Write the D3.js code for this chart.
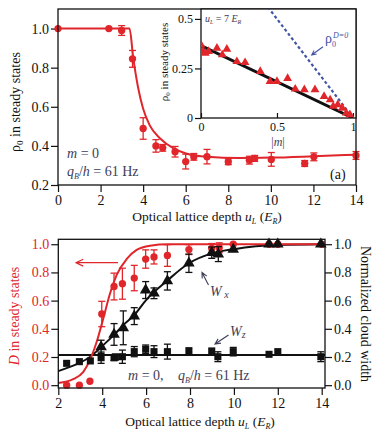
<!DOCTYPE html>
<html>
<head>
<meta charset="utf-8">
<script src="https://cdn.jsdelivr.net/npm/d3@7"></script>
<style>
body { margin: 0; background: #fff; }
svg text { font-family: "Liberation Serif", "Times New Roman", serif; }
</style>
</head>
<body>
<div class="chart"></div>
<script>
// panel (a): rho_0 vs lattice depth
var depthA = [0, 2.39, 2.99, 3.5, 4.0, 4.6, 4.92, 5.5, 6.0, 6.38, 7.0, 8.0, 8.99, 9.24, 10.02, 11.59, 12.02, 14.0];
var rhoA = [1.0, 1.0, 0.99, 0.845, 0.489, 0.40, 0.39, 0.37, 0.32, 0.344, 0.345, 0.319, 0.327, 0.336, 0.331, 0.31, 0.344, 0.351];
var rhoErrA = [0.01, 0.01, 0.025, 0.043, 0.055, 0.032, 0.017, 0.027, 0.038, 0.017, 0.037, 0.015, 0.02, 0.015, 0.035, 0.015, 0.02, 0.02];
var fitDepthA = [0, 3.36, 3.53, 3.76, 4.0, 4.31, 4.8, 5.43, 6.05, 7.0, 8.5, 10, 12, 14];
var fitRhoA = [1.0, 1.0, 0.854, 0.70, 0.59, 0.505, 0.438, 0.387, 0.36, 0.344, 0.338, 0.34, 0.347, 0.355];
var ticksA = [0, 2, 4, 6, 8, 10, 12, 14];
var yTicksA = [0.2, 0.4, 0.6, 0.8, 1.0];

// inset: rho_0 vs |m| at u_L = 7 E_R
var insetM = [0, 0.013, 0.028, 0.05, 0.105, 0.14, 0.17, 0.236, 0.29, 0.39, 0.454, 0.50, 0.57, 0.62, 0.68, 0.75, 0.81, 0.85, 0.87, 0.90, 0.93, 0.956, 0.98];
var insetRho = [0.369, 0.336, 0.327, 0.336, 0.352, 0.319, 0.347, 0.285, 0.28, 0.235, 0.185, 0.185, 0.20, 0.146, 0.143, 0.143, 0.109, 0.092, 0.059, 0.067, 0.05, 0.025, 0.017];
var insetLineM = [0, 1];
var insetLineRho = [0.365, 0];
var noDisorderM = [0, 1];
var noDisorderRho = [1, 0];
var insetXTicks = [0, 0.5, 1];
var insetXLabels = ['0', '0.5', '1'];
var insetYTicks = [0, 0.25, 0.5];
var insetYLabels = ['0', '0.25', '0.5'];

// panel (b): D and cloud widths vs lattice depth
var depthD = [2.38, 2.96, 3.44, 3.98, 4.54, 4.92, 5.46, 5.98, 6.36, 6.97, 7.95, 8.99, 9.33, 9.97, 11.6, 12.0, 14.0];
var valD = [0.0, 0.0, 0.028, 0.505, 0.70, 0.72, 0.76, 0.895, 0.91, 0.92, 0.962, 0.97, 0.975, 1.0, 1.0, 1.0, 1.0];
var errD = [0.01, 0.01, 0.012, 0.09, 0.095, 0.11, 0.09, 0.065, 0.05, 0.077, 0.035, 0.035, 0.035, 0.01, 0.01, 0.01, 0.01];
var fitDepthD = [2, 2.68, 3.14, 3.44, 3.75, 4.05, 4.36, 4.66, 5.12, 5.57, 6.18, 7, 8, 10, 14];
var fitD = [0.016, 0.043, 0.095, 0.178, 0.308, 0.474, 0.652, 0.782, 0.896, 0.96, 0.99, 1.0, 1.0, 1.0, 1.0];

var depthWx = [3.95, 4.54, 4.96, 5.46, 5.98, 6.36, 6.97, 7.95, 8.99, 9.29, 9.97, 11.6, 12.0, 13.96];
var valWx = [0.272, 0.36, 0.407, 0.49, 0.675, 0.652, 0.74, 0.865, 0.94, 0.93, 0.963, 1.0, 1.0, 1.0];
var errWx = [0.047, 0.077, 0.12, 0.06, 0.06, 0.038, 0.065, 0.065, 0.04, 0.053, 0.01, 0.01, 0.01, 0.01];
var fitDepthWx = [2, 2.91, 3.44, 4, 4.57, 4.96, 5.46, 6.0, 6.95, 7.95, 9, 10, 11, 12, 14];
var fitWx = [0.1, 0.154, 0.2, 0.277, 0.362, 0.426, 0.497, 0.604, 0.74, 0.865, 0.935, 0.965, 0.985, 0.995, 1.0];

var depthWz = [2.38, 2.96, 3.46, 3.95, 4.54, 4.6, 4.92, 5.46, 5.98, 6.36, 6.97, 7.95, 8.99, 9.27, 9.97, 11.6, 12.0, 13.96];
var valWz = [0.155, 0.167, 0.172, 0.195, 0.195, 0.2, 0.202, 0.238, 0.255, 0.238, 0.238, 0.245, 0.243, 0.202, 0.238, 0.219, 0.238, 0.202];
var errWz = [0.01, 0.01, 0.01, 0.04, 0.02, 0.02, 0.047, 0.036, 0.03, 0.042, 0.053, 0.01, 0.01, 0.035, 0.03, 0.01, 0.01, 0.035];
var fitDepthWz = [2, 14.15];
var fitWz = [0.215, 0.215];
var ticksB = [2, 4, 6, 8, 10, 12, 14];
var yTicksB = [0.0, 0.2, 0.4, 0.6, 0.8, 1.0];

var red = '#e0262b';
var ink = '#111';
var slate = '#3d3d58';
var blue = '#4254a6';
var serif = '"Liberation Serif", "Times New Roman", serif';

var svg = d3.select('.chart')
  .append('svg')
  .attr('width', 385)
  .attr('height', 440);

function zip(xs, ys, es) {
  return xs.map(function(x, i) { return {x: x, y: ys[i], e: es ? es[i] : 0}; });
}

function styleAxis(g, color, size) {
  g.attr('font-family', serif);
  g.select('.domain').remove();
  g.selectAll('.tick line').attr('stroke', ink).attr('stroke-width', 1.2);
  g.selectAll('.tick text')
    .attr('fill', color)
    .attr('font-size', size)
    .attr('font-family', serif);
}

function errorBars(g, data, x, y, color, cap) {
  var bars = g.append('g').selectAll('g')
    .data(data.filter(function(d) { return d.e > 0.012; }))
    .enter()
    .append('g')
    .attr('stroke', color)
    .attr('stroke-width', 1.3);
  bars.append('line')
    .attr('x1', function(d) { return x(d.x); })
    .attr('x2', function(d) { return x(d.x); })
    .attr('y1', function(d) { return y(d.y - d.e); })
    .attr('y2', function(d) { return y(d.y + d.e); });
  [-1, 1].forEach(function(s) {
    bars.append('line')
      .attr('x1', function(d) { return x(d.x) - cap; })
      .attr('x2', function(d) { return x(d.x) + cap; })
      .attr('y1', function(d) { return y(d.y + s * d.e); })
      .attr('y2', function(d) { return y(d.y + s * d.e); });
  });
}

function symbols(g, data, x, y, type, size, color) {
  g.append('g').selectAll('path')
    .data(data)
    .enter()
    .append('path')
    .attr('d', d3.symbol().type(type).size(size))
    .attr('transform', function(d) { return 'translate(' + x(d.x) + ',' + y(d.y) + ')'; })
    .attr('fill', color);
}

function arrowHead(g, x1, y1, x2, y2, len, color, width) {
  var a = Math.atan2(y2 - y1, x2 - x1);
  var p = [a + 2.7, a - 2.7].map(function(t) {
    return [x2 + len * Math.cos(t), y2 + len * Math.sin(t)];
  });
  g.append('path')
    .attr('d', 'M' + p[0] + 'L' + x2 + ',' + y2 + 'L' + p[1] + 'M' + x1 + ',' + y1 + 'L' + x2 + ',' + y2)
    .attr('fill', 'none')
    .attr('stroke', color)
    .attr('stroke-width', width);
}

var depthLabel = 'Optical lattice depth <tspan font-style="italic">u</tspan><tspan font-size="8" dy="3" font-style="italic">L</tspan><tspan dy="-3"> (</tspan><tspan font-style="italic">E</tspan><tspan font-size="8" dy="3" font-style="italic">R</tspan><tspan dy="-3">)</tspan>';
var qbLabel = '<tspan font-style="italic">q</tspan><tspan font-size="8" dy="3" font-style="italic">B</tspan><tspan dy="-3">/</tspan><tspan font-style="italic">h</tspan> = 61 Hz';

// ---------- panel (a) ----------
var xA = d3.scaleLinear().domain([0, 14]).range([58, 356]);
var yA = d3.scaleLinear().domain([0.2, 1.1]).range([185, 9]);

var gA = svg.append('g');

gA.append('g')
  .attr('transform', 'translate(0,185)')
  .call(d3.axisBottom(xA).tickValues(ticksA).tickSize(7).tickPadding(3).tickSizeOuter(0))
  .call(styleAxis, ink, 14);

gA.append('g')
  .attr('transform', 'translate(58,0)')
  .call(d3.axisLeft(yA).tickValues(yTicksA).tickSize(7).tickPadding(2).tickFormat(d3.format('.1f')))
  .call(styleAxis, ink, 14);

var fitLineA = d3.line()
  .x(function(d) { return xA(d.x); })
  .y(function(d) { return yA(d.y); })
  .curve(d3.curveMonotoneX);

gA.append('path')
  .attr('d', fitLineA(zip(fitDepthA, fitRhoA)))
  .attr('fill', 'none')
  .attr('stroke', red)
  .attr('stroke-width', 2);

var dataA = zip(depthA, rhoA, rhoErrA);
errorBars(gA, dataA, xA, yA, red, 3.5);
symbols(gA, dataA, xA, yA, d3.symbolCircle, 42, red);

gA.append('rect')
  .attr('x', 58).attr('y', 9)
  .attr('width', 298).attr('height', 176)
  .attr('fill', 'none')
  .attr('stroke', ink)
  .attr('stroke-width', 1.3);

gA.append('text')
  .attr('x', 67).attr('y', 158)
  .attr('font-size', 14)
  .attr('fill', slate)
  .html('<tspan font-style="italic">m</tspan> = 0');

gA.append('text')
  .attr('x', 67).attr('y', 176)
  .attr('font-size', 14)
  .attr('fill', slate)
  .html(qbLabel);

gA.append('text')
  .attr('x', 330).attr('y', 179)
  .attr('font-size', 14)
  .attr('fill', ink)
  .text('(a)');

gA.append('text')
  .attr('x', 207).attr('y', 221)
  .attr('text-anchor', 'middle')
  .attr('font-size', 13.5)
  .attr('fill', ink)
  .html(depthLabel);

gA.append('text')
  .attr('transform', 'translate(20,102) rotate(-90)')
  .attr('text-anchor', 'middle')
  .attr('font-size', 14)
  .attr('fill', ink)
  .html('ρ<tspan font-size="9" dy="3">0</tspan><tspan dy="-3"> in steady states</tspan>');

// ---------- inset ----------
var xI = d3.scaleLinear().domain([0, 1.02]).range([201, 356]);
var yI = d3.scaleLinear().domain([0, 0.55]).range([118, 9]);

var gI = svg.append('g');

gI.append('rect')
  .attr('x', 201).attr('y', 9)
  .attr('width', 155).attr('height', 109)
  .attr('fill', '#fff')
  .attr('stroke', ink)
  .attr('stroke-width', 1.3);

gI.append('defs').append('clipPath')
  .attr('id', 'insetClip')
  .append('rect')
  .attr('x', 201).attr('y', 9)
  .attr('width', 155).attr('height', 109);

gI.append('g')
  .attr('transform', 'translate(0,118)')
  .call(d3.axisBottom(xI).tickValues(insetXTicks).tickSize(-5).tickPadding(4)
    .tickFormat(function(d, i) { return insetXLabels[i]; }))
  .call(styleAxis, ink, 12);

gI.append('g')
  .attr('transform', 'translate(201,0)')
  .call(d3.axisLeft(yI).tickValues(insetYTicks).tickSize(6).tickPadding(2)
    .tickFormat(function(d, i) { return insetYLabels[i]; }))
  .call(styleAxis, ink, 12);

var lineI = d3.line()
  .x(function(d) { return xI(d.x); })
  .y(function(d) { return yI(d.y); });

var clipped = gI.append('g').attr('clip-path', 'url(#insetClip)');

clipped.append('path')
  .attr('d', lineI(zip(noDisorderM, noDisorderRho)))
  .attr('fill', 'none')
  .attr('stroke', blue)
  .attr('stroke-width', 2.2)
  .attr('stroke-dasharray', '3,2.5');

clipped.append('path')
  .attr('d', lineI(zip(insetLineM, insetLineRho)))
  .attr('fill', 'none')
  .attr('stroke', ink)
  .attr('stroke-width', 3);

symbols(clipped, zip(insetM, insetRho), xI, yI, d3.symbolTriangle, 34, red);

gI.append('text')
  .attr('x', 205).attr('y', 22)
  .attr('font-size', 10)
  .attr('fill', slate)
  .html('<tspan font-style="italic">u</tspan><tspan font-size="6" dy="2" font-style="italic">L</tspan><tspan dy="-2"> = 7 </tspan><tspan font-style="italic">E</tspan><tspan font-size="6" dy="2" font-style="italic">R</tspan>');

gI.append('text')
  .attr('x', 325).attr('y', 43)
  .attr('font-size', 14)
  .attr('fill', blue)
  .text('ρ');
gI.append('text')
  .attr('x', 332).attr('y', 47)
  .attr('font-size', 8)
  .attr('fill', blue)
  .text('0');
gI.append('text')
  .attr('x', 333).attr('y', 38)
  .attr('font-size', 8)
  .attr('font-style', 'italic')
  .attr('fill', blue)
  .text('D=0');

arrowHead(gI, 323, 46.7, 311.7, 55, 5, blue, 1.1);

gI.append('text')
  .attr('x', 278).attr('y', 146)
  .attr('text-anchor', 'middle')
  .attr('font-size', 12)
  .attr('fill', slate)
  .html('|<tspan font-style="italic">m</tspan>|');

gI.append('text')
  .attr('transform', 'translate(168,62) rotate(-90)')
  .attr('text-anchor', 'middle')
  .attr('font-size', 11)
  .attr('fill', ink)
  .html('ρ<tspan font-size="7" dy="2">0</tspan><tspan dy="-2"> in steady states</tspan>');

// ---------- panel (b) ----------
var xB = d3.scaleLinear().domain([2, 14.15]).range([58.3, 325]);
var yB = d3.scaleLinear().domain([-0.02, 1.035]).range([388, 239.3]);

var gB = svg.append('g');

gB.append('g')
  .attr('transform', 'translate(0,388)')
  .call(d3.axisBottom(xB).tickValues(ticksB).tickSize(7).tickPadding(3).tickSizeOuter(0))
  .call(styleAxis, ink, 14);

gB.append('g')
  .attr('transform', 'translate(58.3,0)')
  .call(d3.axisLeft(yB).tickValues(yTicksB).tickSize(7).tickPadding(2).tickFormat(d3.format('.1f')))
  .call(styleAxis, red, 14);

gB.append('g')
  .attr('transform', 'translate(325,0)')
  .call(d3.axisRight(yB).tickValues(yTicksB).tickSize(7).tickPadding(2).tickFormat(d3.format('.1f')))
  .call(styleAxis, ink, 14);

var lineB = d3.line()
  .x(function(d) { return xB(d.x); })
  .y(function(d) { return yB(d.y); })
  .curve(d3.curveMonotoneX);

gB.append('path')
  .attr('d', lineB(zip(fitDepthWz, fitWz)))
  .attr('fill', 'none')
  .attr('stroke', ink)
  .attr('stroke-width', 2);

gB.append('path')
  .attr('d', lineB(zip(fitDepthWx, fitWx)))
  .attr('fill', 'none')
  .attr('stroke', ink)
  .attr('stroke-width', 2);

gB.append('path')
  .attr('d', lineB(zip(fitDepthD, fitD)))
  .attr('fill', 'none')
  .attr('stroke', red)
  .attr('stroke-width', 2);

var dataD = zip(depthD, valD, errD);
errorBars(gB, dataD, xB, yB, red, 3.5);
symbols(gB, dataD, xB, yB, d3.symbolCircle, 42, red);

var dataWz = zip(depthWz, valWz, errWz);
errorBars(gB, dataWz, xB, yB, ink, 3.5);
symbols(gB, dataWz, xB, yB, d3.symbolSquare, 50, ink);

var dataWx = zip(depthWx, valWx, errWx);
errorBars(gB, dataWx, xB, yB, ink, 3.5);
symbols(gB, dataWx, xB, yB, d3.symbolTriangle, 58, ink);

gB.append('rect')
  .attr('x', 58.3).attr('y', 239.3)
  .attr('width', 266.7).attr('height', 148.7)
  .attr('fill', 'none')
  .attr('stroke', ink)
  .attr('stroke-width', 1.3);

arrowHead(gB, 118, 262.7, 76, 262.7, 8, red, 1.2);
arrowHead(gB, 208.5, 285, 202, 272.5, 6, slate, 1.1);
arrowHead(gB, 228.5, 335, 215, 344, 6, slate, 1.1);

gB.append('text')
  .attr('x', 210).attr('y', 296)
  .attr('font-size', 14)
  .attr('fill', slate)
  .html('<tspan font-style="italic">W</tspan><tspan font-size="10" dy="2" font-style="italic"> x</tspan>');

gB.append('text')
  .attr('x', 230).attr('y', 336)
  .attr('font-size', 14)
  .attr('fill', slate)
  .html('<tspan font-style="italic">W</tspan><tspan font-size="10" dy="2" font-style="italic">z</tspan>');

gB.append('text')
  .attr('x', 128).attr('y', 380)
  .attr('font-size', 14)
  .attr('fill', slate)
  .html('<tspan font-style="italic">m</tspan> = 0,');

gB.append('text')
  .attr('x', 178).attr('y', 380)
  .attr('font-size', 14)
  .attr('fill', slate)
  .html(qbLabel);

gB.append('text')
  .attr('x', 200).attr('y', 426)
  .attr('text-anchor', 'middle')
  .attr('font-size', 13.5)
  .attr('fill', ink)
  .html(depthLabel);

gB.append('text')
  .attr('transform', 'translate(19,316) rotate(-90)')
  .attr('text-anchor', 'middle')
  .attr('font-size', 14)
  .attr('fill', red)
  .html('<tspan font-style="italic">D</tspan> in steady states');

gB.append('text')
  .attr('transform', 'translate(361,314) rotate(90)')
  .attr('text-anchor', 'middle')
  .attr('font-size', 14)
  .attr('fill', ink)
  .text('Normalized cloud width');
</script>
</body>
</html>
